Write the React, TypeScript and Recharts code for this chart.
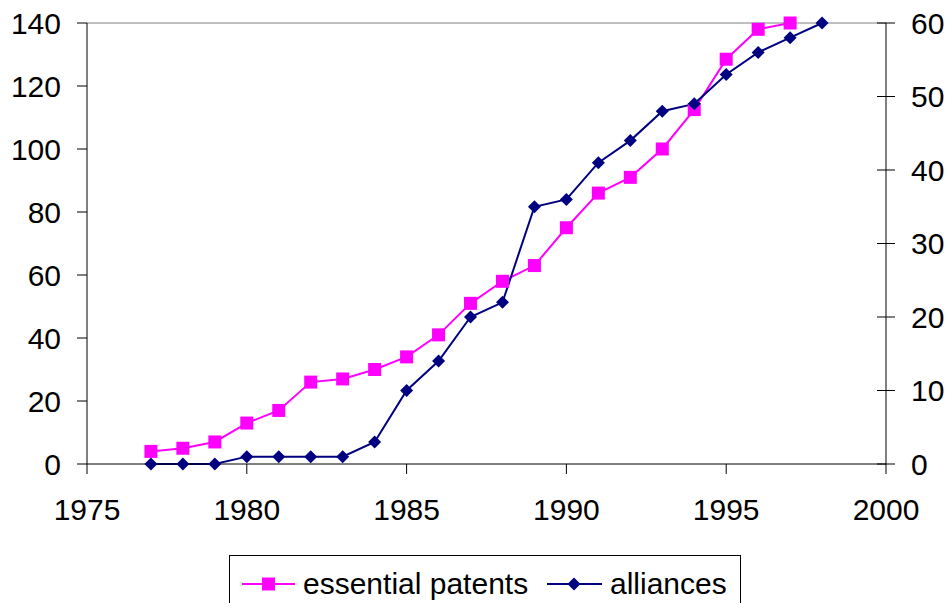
import React from 'react';
import { LineChart, Line, XAxis, YAxis, Legend, ReferenceLine } from 'recharts';

const years = [1977, 1978, 1979, 1980, 1981, 1982, 1983, 1984, 1985, 1986, 1987, 1988, 1989, 1990, 1991, 1992, 1993, 1994, 1995, 1996, 1997, 1998];
const essentialPatents: (number | null)[] = [4, 5, 7, 13, 17, 26, 27, 30, 34, 41, 51, 58, 63, 75, 86, 91, 100, 112.5, 128.5, 138, 140, null];
const alliances = [0, 0, 0, 1, 1, 1, 1, 3, 10, 14, 20, 22, 35, 36, 41, 44, 48, 49, 53, 56, 58, 60];
const xTicks = [1975, 1980, 1985, 1990, 1995, 2000];
const leftTicks = [0, 20, 40, 60, 80, 100, 120, 140];
const rightTicks = [0, 10, 20, 30, 40, 50, 60];

const data = years.map((year, i) => ({ year, patents: essentialPatents[i], alliances: alliances[i] }));

const PINK = '#FF00FF';
const NAVY = '#000080';
const FONT = '"Liberation Sans", Arial, sans-serif';

const SquareDot = (props: any) => {
  const { cx, cy, index } = props;
  if (cx == null || cy == null || props.value == null) return <g key={`s${index}`} />;
  return <rect key={`s${index}`} x={cx - 6.5} y={cy - 6.5} width={13} height={13} fill={PINK} />;
};

const DiamondDot = (props: any) => {
  const { cx, cy, index } = props;
  if (cx == null || cy == null) return <g key={`d${index}`} />;
  const r = 6.5;
  return <polygon key={`d${index}`} points={`${cx},${cy - r} ${cx + r},${cy} ${cx},${cy + r} ${cx - r},${cy}`} fill={NAVY} />;
};

const RightTick = (props: any) => {
  const { x, y, payload } = props;
  const axisX = x - 25;
  return (
    <g>
      <line x1={axisX - 9} x2={axisX} y1={y} y2={y} stroke="#000" strokeWidth={1} />
      <text x={x} y={y} dy="0.355em" textAnchor="start" fill="#000" fontSize={30} fontFamily={FONT}>
        {payload.value}
      </text>
    </g>
  );
};

const LegendContent = () => (
  <svg width={512} height={48} style={{ display: 'block' }}>
    <line x1={12} x2={65} y1={28} y2={28} stroke={PINK} strokeWidth={2} />
    <rect x={32} y={21.5} width={13} height={13} fill={PINK} />
    <text x={73} y={38} fontSize={30} fontFamily={FONT} fill="#000">essential patents</text>
    <line x1={317} x2={372} y1={28} y2={28} stroke={NAVY} strokeWidth={2} />
    <polygon points={`344,21.5 350.5,28 344,34.5 337.5,28`} fill={NAVY} />
    <text x={380} y={38} fontSize={30} fontFamily={FONT} fill="#000">alliances</text>
  </svg>
);

export default function App() {
  return (
    <div style={{ position: 'absolute', left: 0, top: 0, width: 948, height: 603, overflow: 'hidden', background: '#fff' }}>
      <LineChart width={948} height={603} data={data} margin={{ top: 23, right: 0, bottom: 0, left: 0 }}>
        <XAxis
          dataKey="year"
          type="number"
          domain={[1975, 2000]}
          ticks={xTicks}
          height={139}
          tickSize={10}
          tickMargin={25}
          stroke="#000"
          tick={{ fill: '#000', fontSize: 30, fontFamily: FONT }}
          interval={0}
        />
        <YAxis
          yAxisId="left"
          orientation="left"
          domain={[0, 140]}
          ticks={leftTicks}
          width={87}
          tickSize={10}
          tickMargin={16}
          stroke="#000"
          tick={{ fill: '#000', fontSize: 30, fontFamily: FONT }}
          interval={0}
        />
        <YAxis
          yAxisId="right"
          orientation="right"
          domain={[0, 60]}
          ticks={rightTicks}
          width={62}
          tickSize={9}
          tickMargin={16}
          stroke="#000"
          tick={<RightTick />}
          interval={0}
        />
        <ReferenceLine yAxisId="left" y={140} stroke="#808080" strokeWidth={1} />
        <Line
          yAxisId="left"
          dataKey="patents"
          name="essential patents"
          stroke={PINK}
          strokeWidth={2}
          dot={SquareDot}
          activeDot={false}
          isAnimationActive={false}
          connectNulls={false}
        />
        <Line
          yAxisId="right"
          dataKey="alliances"
          name="alliances"
          stroke={NAVY}
          strokeWidth={2}
          dot={DiamondDot}
          activeDot={false}
          isAnimationActive={false}
        />
        <Legend
          layout="horizontal"
          verticalAlign="middle"
          align="center"
          content={<LegendContent />}
          wrapperStyle={{ position: 'absolute', left: 229, top: 555, width: 512, height: 60, border: '1px solid #000', background: '#fff', boxSizing: 'border-box' }}
        />
      </LineChart>
    </div>
  );
}
